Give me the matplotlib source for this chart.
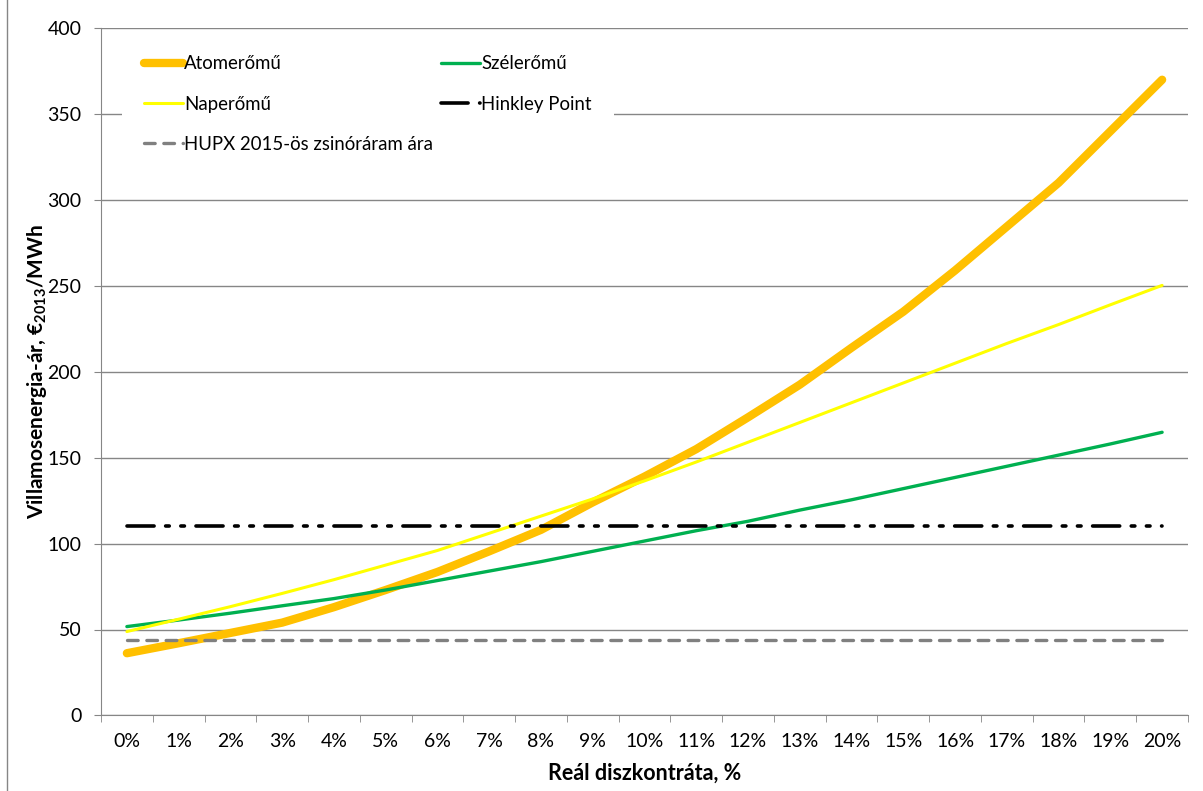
import matplotlib
matplotlib.use("Agg")
import matplotlib.pyplot as plt
import numpy as np
from matplotlib.lines import Line2D

plt.rcParams['font.family'] = ['Lato', 'DejaVu Sans']
plt.rcParams['mathtext.fontset'] = 'custom'
plt.rcParams['mathtext.rm'] = 'Lato'
plt.rcParams['mathtext.bf'] = 'Lato:bold'

# discount rate categories, %
rates = list(range(0, 21))
rate_labels = [f"{r}%" for r in rates]

# electricity price, EUR2013/MWh
atom = [36.2, 42, 48, 54, 63, 73, 83.5, 95.5, 108, 124, 139, 155, 173.5,
        192.5, 214, 235, 259, 284.5, 310, 340, 370]
szel = [51.7, 55.5, 59.5, 63.8, 68, 73, 78.5, 84, 89.5, 95.5, 101.5, 107.5,
        113, 119.5, 125.5, 132, 138.5, 145, 151.5, 158, 164.8]
nap = [48.8, 56, 63.3, 71, 79, 87.5, 96, 106, 116, 126, 136.5, 147.5, 159,
       170.5, 182, 193.5, 205, 216.5, 227.5, 239, 250.3]
hinkley = 110.5
hupx = 43.8

grid_col = '#868686'

fig = plt.figure(figsize=(12.03, 7.91), dpi=100)
ax = fig.add_axes([101 / 1203, 1 - 715.4 / 791, 1087 / 1203, 687.2 / 791])

x = np.arange(len(rates))
ax.plot(x, atom, color='#FFC000', lw=6, solid_capstyle='round', zorder=3,
        label='Atomerőmű')
ax.plot(x, szel, color='#00B050', lw=2.4, solid_capstyle='round', zorder=4,
        label='Szélerőmű')
ax.plot(x, nap, color='#FFFF00', lw=2.2, solid_capstyle='round', zorder=5,
        label='Naperőmű')
ax.plot(x, [hinkley] * len(x), color='black', lw=2.6, zorder=6,
        dashes=(7.5, 3.2, 1, 3.2, 1, 3.2), dash_capstyle='round',
        label='Hinkley Point')
ax.plot(x, [hupx] * len(x), color='#808080', lw=2.4, zorder=7,
        dashes=(3.2, 2.6), dash_capstyle='round',
        label='HUPX 2015-ös zsinóráram ára')

ax.set_xlim(-0.5, 20.5)
ax.set_ylim(0, 400)
ax.set_yticks(np.arange(0, 401, 50))
ax.yaxis.grid(True, color=grid_col, lw=1)
ax.set_axisbelow(True)

ax.set_xticks(x)
ax.set_xticklabels(rate_labels)
ax.set_xticks(np.arange(-0.5, 21, 1), minor=True)
ax.tick_params(axis='x', which='major', length=0, pad=13, labelsize=14)
ax.tick_params(axis='x', which='minor', length=5, color=grid_col)
ax.tick_params(axis='y', length=5, color=grid_col, pad=9, labelsize=14)

for s in ['top', 'right']:
    ax.spines[s].set_visible(False)
for s in ['left', 'bottom']:
    ax.spines[s].set_color(grid_col)

ax.set_xlabel('Reál diszkontráta, %', fontsize=15.5, fontweight='bold')
ax.xaxis.set_label_coords(0.5, -(773 - 715.4) / 687.2)
ax.xaxis.label.set_verticalalignment('center')
ax.set_ylabel(r'Villamosenergia-ár, €$_{\mathbf{2013}}$/MWh', fontsize=15,
              fontweight='bold')
ax.yaxis.set_label_coords(-(101 - 37.5) / 1087, 0.5)
ax.yaxis.label.set_verticalalignment('center')

h, l = ax.get_legend_handles_labels()
order = [0, 2, 4, 1, 3]
leg = ax.legend([h[i] for i in order], [l[i] for i in order], ncol=2,
                loc='upper left', bbox_to_anchor=(0.019, 0.993),
                borderaxespad=0, borderpad=1.2, handlelength=2.1,
                handletextpad=0.05, columnspacing=0.45, labelspacing=1.25,
                fontsize=13.4, frameon=True, facecolor='white',
                edgecolor='none', framealpha=1)
leg.set_zorder(10)

# chart border on the left
fig.add_artist(Line2D([7 / 1203, 7 / 1203], [0, 1], color=grid_col, lw=1))

fig.savefig('out.png', dpi=100)
